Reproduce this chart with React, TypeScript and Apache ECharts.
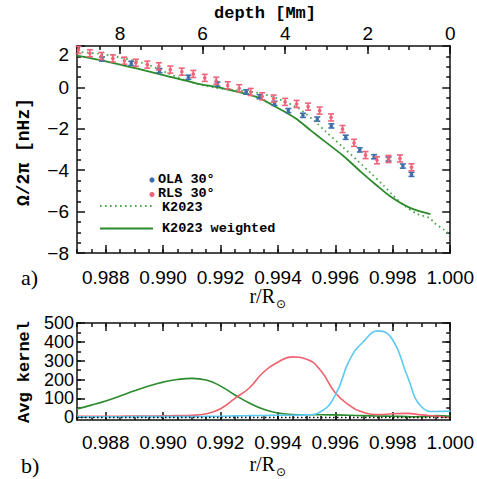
import React, { useEffect, useRef } from 'react';
import * as echarts from 'echarts';

// ---------- data ----------
const R_TICKS = [0.988, 0.99, 0.992, 0.994, 0.996, 0.998, 1.0];
const DEPTH_MAX = 9.0441; // (1 - 0.987) * 695.7 Mm
const KERNEL_TICKS = [0, 100, 200, 300, 400, 500];
const KERNEL_MINOR = [0, 50, 100, 150, 200, 250, 300, 350, 400, 450, 500];

const R_RLS = [0.98705, 0.98745, 0.98785, 0.98825, 0.98865, 0.98905, 0.98945, 0.98985, 0.99025, 0.99065,
  0.99105, 0.99145, 0.99185, 0.99225, 0.99265, 0.99305, 0.99345, 0.99385, 0.99425, 0.99465,
  0.99505, 0.99545, 0.99585, 0.99625, 0.99665, 0.99705, 0.99745, 0.99785, 0.99825, 0.99865];
const V_RLS = [1.81, 1.65, 1.52, 1.40, 1.29, 1.19, 1.10, 1.02, 0.86, 0.76,
  0.65, 0.46, 0.32, 0.10, -0.04, -0.22, -0.43, -0.54, -0.70, -0.80,
  -0.93, -1.12, -1.45, -2.01, -2.68, -3.27, -3.52, -3.46, -3.43, -3.86];
const E_RLS = [0.17, 0.17, 0.17, 0.17, 0.17, 0.17, 0.17, 0.17, 0.17, 0.17,
  0.17, 0.17, 0.17, 0.17, 0.17, 0.17, 0.17, 0.17, 0.17, 0.17,
  0.17, 0.17, 0.17, 0.17, 0.17, 0.17, 0.17, 0.17, 0.17, 0.17];

const R_OLA = [0.98787, 0.98889, 0.98987, 0.99088, 0.99189, 0.99289, 0.99336, 0.99388, 0.99436,
  0.99487, 0.99537, 0.99586, 0.99636, 0.99685, 0.99735, 0.99785, 0.99835, 0.99865];
const V_OLA = [1.37, 1.16, 0.81, 0.49, 0.16, -0.22, -0.45, -0.77, -1.12,
  -1.35, -1.53, -1.86, -2.41, -3.02, -3.35, -3.46, -3.80, -4.20];
const E_OLA = [0.1, 0.1, 0.1, 0.1, 0.1, 0.1, 0.1, 0.1, 0.1,
  0.1, 0.1, 0.1, 0.1, 0.1, 0.1, 0.1, 0.1, 0.1];

const R_K2023 = [0.987, 0.9878, 0.98849, 0.98942, 0.99022, 0.99091, 0.99125, 0.99177, 0.99229, 0.99326,
  0.99391, 0.99471, 0.9953, 0.99564, 0.99627, 0.99678, 0.9972, 0.99765, 0.99803, 0.99841,
  0.99886, 0.99927, 0.99945, 0.99979, 1.0];
const V_K2023 = [1.72, 1.62, 1.45, 1.12, 0.65, 0.28, 0.15, 0.0, -0.1, -0.25,
  -0.5, -1.01, -1.66, -2.1, -2.9, -3.55, -4.1, -4.7, -5.25, -5.72,
  -6.12, -6.3, -6.55, -6.89, -7.1];

const R_K2023W = [0.987, 0.98804, 0.98907, 0.99011, 0.99115, 0.99205, 0.99322, 0.99391, 0.99461,
  0.99516, 0.99564, 0.99627, 0.99689, 0.99741, 0.99793, 0.99862, 0.99931];
const V_K2023W = [1.53, 1.25, 0.92, 0.56, 0.2, -0.04, -0.45, -0.93, -1.49,
  -2.1, -2.62, -3.3, -4.08, -4.7, -5.28, -5.83, -6.12];

// averaging kernels, sampled every 0.0005 in r/R
const R_KER = [0.987, 0.9875, 0.988, 0.9885, 0.989, 0.9895, 0.99, 0.9905, 0.991, 0.9915,
  0.992, 0.9925, 0.993, 0.9935, 0.994, 0.9945, 0.995, 0.9955, 0.996, 0.9965,
  0.997, 0.9975, 0.998, 0.9985, 0.999, 0.9995, 1.0];
const V_KER_G = [44, 64, 86, 112, 140, 165, 186, 200, 206, 197,
  165, 118, 75, 42, 22, 14, 13, 13, 12, 10,
  8, 6, 5, 3, 2, 8, 5];
const V_KER_R = [5, 5, 5, 5, 6, 6, 7, 8, 10, 18,
  45, 100, 155, 240, 292, 320, 308, 245, 128, 62,
  25, 14, 18, 20, 12, 6, -3];
const V_KER_C = [2, 2, 2, 2, 3, 3, 3, 3, 3, 4,
  5, 7, 8, 9, 10, 10, 12, 30, 118, 305,
  405, 458, 410, 220, 55, 30, 32];

// ---------- styles ----------
const FG = '#111';
const SANS = '"Liberation Sans", Arial, sans-serif';
const TICK_FONT = { fontFamily: SANS, fontSize: 19, color: '#000', lineHeight: 16 };
const MONO = '"Liberation Mono", "Courier New", monospace';
const SERIF = '"Liberation Serif", "Times New Roman", serif';
const C_OLA = '#3d6fa8';
const C_RLS = '#f0647a';
const C_GREEN = '#2b8a2b';
const C_GREEN_LIGHT = '#48a848';
const C_RED = '#f0606c';
const C_CYAN = '#5ec8f0';

const lineStyle = { color: FG, width: 1.5 };
const minus = (s: string) => s.replace('-', '\u2212');

function rAxes(grid: number, labelMargin: number) {
  const major = (pos: string, labels: boolean) => ({
    gridIndex: grid, type: 'value', position: pos, min: 0.987, max: 1.0,
    axisLine: { show: true, onZero: false, lineStyle },
    axisTick: { show: true, inside: true, length: 8, customValues: R_TICKS, lineStyle },
    axisLabel: labels
      ? { show: true, customValues: R_TICKS, formatter: (v: number) => v.toFixed(3), margin: labelMargin, hideOverlap: false, ...TICK_FONT }
      : { show: false },
    splitLine: { show: false },
  });
  const minor = (pos: string) => ({
    gridIndex: grid, type: 'value', position: pos, min: 0.987, max: 1.0, interval: 0.0005,
    axisLine: { show: false, onZero: false },
    axisTick: { show: true, inside: true, length: 4, lineStyle },
    axisLabel: { show: false },
    splitLine: { show: false },
  });
  return { major, minor };
}

function buildOption() {
  const a0 = rAxes(0, 16);
  const a1 = rAxes(1, 14);
  const xAxis: any[] = [
    a0.major('bottom', true), // 0
    a0.minor('bottom'), // 1
    { // 2 depth top major
      gridIndex: 0, type: 'value', position: 'top', min: 0, max: DEPTH_MAX, inverse: true, interval: 2,
      axisLine: { show: true, onZero: false, lineStyle },
      axisTick: { show: true, inside: true, length: 8, lineStyle },
      axisLabel: {
        show: true, margin: 5, ...TICK_FONT,
        formatter: (v: number) => (Math.abs(v - Math.round(v)) < 1e-6 && Math.round(v) % 2 === 0 ? String(Math.round(v)) : ''),
      },
      splitLine: { show: false },
    },
    { // 3 depth top minor
      gridIndex: 0, type: 'value', position: 'top', min: 0, max: DEPTH_MAX, inverse: true, interval: 0.5,
      axisLine: { show: false, onZero: false },
      axisTick: { show: true, inside: true, length: 4, lineStyle },
      axisLabel: { show: false }, splitLine: { show: false },
    },
    a1.major('bottom', true), // 4
    a1.minor('bottom'), // 5
    a1.major('top', false), // 6
    a1.minor('top'), // 7
  ];

  const yAxis: any[] = [
    { // 0 top panel left
      gridIndex: 0, type: 'value', position: 'left', min: -8, max: 2, interval: 2,
      axisLine: { show: true, onZero: false, lineStyle },
      axisTick: { show: true, inside: true, length: 8, lineStyle },
      minorTick: { show: true, splitNumber: 4, length: 4, lineStyle },
      axisLabel: { show: true, margin: 8, ...TICK_FONT, formatter: (v: number) => minus(String(v)), verticalAlignMaxLabel: 'top' },
      splitLine: { show: false }, minorSplitLine: { show: false },
    },
    { // 1 top panel right
      gridIndex: 0, type: 'value', position: 'right', min: -8, max: 2, interval: 2,
      axisLine: { show: true, onZero: false, lineStyle },
      axisTick: { show: true, inside: true, length: 8, lineStyle },
      minorTick: { show: true, splitNumber: 4, length: 4, lineStyle },
      axisLabel: { show: false },
      splitLine: { show: false }, minorSplitLine: { show: false },
    },
    { // 2 bottom panel left major
      gridIndex: 1, type: 'value', position: 'left', min: -15, max: 500,
      axisLine: { show: true, onZero: false, lineStyle },
      axisTick: { show: true, inside: true, length: 8, customValues: KERNEL_TICKS, lineStyle },
      axisLabel: { show: true, margin: 3, fontFamily: SANS, fontSize: 18, lineHeight: 15, color: '#000', customValues: KERNEL_TICKS, hideOverlap: false, showMaxLabel: true },
      splitLine: { show: false },
    },
    { // 3 bottom panel left minor
      gridIndex: 1, type: 'value', position: 'left', min: -15, max: 500,
      axisLine: { show: false, onZero: false },
      axisTick: { show: true, inside: true, length: 4, customValues: KERNEL_MINOR, lineStyle },
      axisLabel: { show: false }, splitLine: { show: false },
    },
    { // 4 bottom panel right major
      gridIndex: 1, type: 'value', position: 'right', min: -15, max: 500,
      axisLine: { show: true, onZero: false, lineStyle },
      axisTick: { show: true, inside: true, length: 8, customValues: KERNEL_TICKS, lineStyle },
      axisLabel: { show: false }, splitLine: { show: false },
    },
    { // 5 bottom panel right minor
      gridIndex: 1, type: 'value', position: 'right', min: -15, max: 500,
      axisLine: { show: false, onZero: false },
      axisTick: { show: true, inside: true, length: 4, customValues: KERNEL_MINOR, lineStyle },
      axisLabel: { show: false }, splitLine: { show: false },
    },
  ];

  const errRender = (color: string, capW: number, dotR: number) => (params: any, api: any) => {
    const x = api.value(0), y = api.value(1), e = api.value(2);
    const p = api.coord([x, y]);
    const t = api.coord([x, y + e]);
    const b = api.coord([x, y - e]);
    const st = { stroke: color, lineWidth: 1.6 };
    return {
      type: 'group',
      children: [
        { type: 'line', shape: { x1: p[0], y1: t[1], x2: p[0], y2: b[1] }, style: st },
        { type: 'line', shape: { x1: p[0] - capW / 2, y1: t[1], x2: p[0] + capW / 2, y2: t[1] }, style: st },
        { type: 'line', shape: { x1: p[0] - capW / 2, y1: b[1], x2: p[0] + capW / 2, y2: b[1] }, style: st },
        { type: 'circle', shape: { cx: p[0], cy: p[1], r: dotR }, style: { fill: color } },
      ],
    };
  };

  const kernelLine = (vals: number[], color: string, extra: any = {}) => ({
    type: 'line', xAxisIndex: 4, yAxisIndex: 2, showSymbol: false, smooth: 0.5,
    data: R_KER.map((r, i) => [r, vals[i]]),
    lineStyle: { color, width: 1.6 }, z: 3, ...extra,
  });

  const series: any[] = [
    {
      name: 'K2023', type: 'line', xAxisIndex: 0, yAxisIndex: 0, showSymbol: false, smooth: 0.3,
      data: R_K2023.map((r, i) => [r, V_K2023[i]]),
      lineStyle: { color: C_GREEN_LIGHT, width: 1.8, type: [1.6, 3.4] }, z: 2,
    },
    {
      name: 'K2023 weighted', type: 'line', xAxisIndex: 0, yAxisIndex: 0, showSymbol: false, smooth: 0.3,
      data: R_K2023W.map((r, i) => [r, V_K2023W[i]]),
      lineStyle: { color: C_GREEN, width: 1.8 }, z: 2,
    },
    {
      name: 'OLA 30°', type: 'custom', xAxisIndex: 0, yAxisIndex: 0, z: 4,
      renderItem: errRender(C_OLA, 6, 1.8),
      data: R_OLA.map((r, i) => [r, V_OLA[i], E_OLA[i]]),
    },
    {
      name: 'RLS 30°', type: 'custom', xAxisIndex: 0, yAxisIndex: 0, z: 5,
      renderItem: errRender(C_RLS, 6, 1.8),
      data: R_RLS.map((r, i) => [r, V_RLS[i], E_RLS[i]]),
    },
    kernelLine(V_KER_G, C_GREEN, {
      name: 'kernel deep',
      markLine: {
        silent: true, symbol: 'none', label: { show: false },
        lineStyle: { color: '#000', width: 1.3, type: [1.5, 2.5] },
        data: [{ yAxis: 0 }],
      },
    }),
    kernelLine(V_KER_R, C_RED, { name: 'kernel mid' }),
    kernelLine(V_KER_C, C_CYAN, { name: 'kernel shallow' }),
  ];

  const legendFont = { fontFamily: MONO, fontSize: 13.5, fontWeight: 'bold', fill: '#000', verticalAlign: 'middle', lineHeight: 11 };
  const rFont = { fontFamily: SERIF, fontSize: 20, fill: '#000', align: 'right', verticalAlign: 'middle', lineHeight: 14 };
  const sunFont = { fontFamily: '"DejaVu Sans", sans-serif', fontSize: 12, fill: '#000', verticalAlign: 'middle', lineHeight: 10 };
  const graphic: any[] = [
    { type: 'text', x: 265, y: 13, style: { text: 'depth [Mm]', fontFamily: MONO, fontSize: 17, fontWeight: 'bold', fill: '#000', align: 'center', verticalAlign: 'middle', lineHeight: 13 } },
    { type: 'text', x: 24, y: 152, rotation: Math.PI / 2, style: { text: 'Ω/2π [nHz]', fontFamily: MONO, fontSize: 18, fontWeight: 'bold', fill: '#000', align: 'center', verticalAlign: 'middle' } },
    { type: 'text', x: 24, y: 372, rotation: Math.PI / 2, style: { text: 'Avg kernel', fontFamily: MONO, fontSize: 17, fontWeight: 'bold', fill: '#000', align: 'center', verticalAlign: 'middle' } },
    // legend
    { type: 'circle', shape: { cx: 152, cy: 180, r: 2.6 }, style: { fill: C_OLA } },
    { type: 'text', x: 158, y: 179.5, style: { text: 'OLA 30°', ...legendFont } },
    { type: 'circle', shape: { cx: 152, cy: 194.5, r: 2.6 }, style: { fill: C_RLS } },
    { type: 'text', x: 158, y: 193.8, style: { text: 'RLS 30°', ...legendFont } },
    { type: 'line', shape: { x1: 100, y1: 206, x2: 153, y2: 206 }, style: { stroke: C_GREEN_LIGHT, lineWidth: 1.8, lineDash: [1.6, 3.4] } },
    { type: 'text', x: 162, y: 207.5, style: { text: 'K2023', ...legendFont } },
    { type: 'line', shape: { x1: 100, y1: 228.5, x2: 153, y2: 228.5 }, style: { stroke: C_GREEN, lineWidth: 1.8 } },
    { type: 'text', x: 162, y: 228.5, style: { text: 'K2023 weighted', ...legendFont } },
    // panel labels and axis titles
    { type: 'text', x: 21, y: 277, style: { text: 'a)', fontFamily: SERIF, fontSize: 22, fill: '#000', verticalAlign: 'middle' } },
    { type: 'text', x: 275, y: 296, style: { text: 'r/R', ...rFont } },
    { type: 'text', x: 276, y: 303.5, style: { text: '⊙', ...sunFont } },
    { type: 'text', x: 21, y: 465, style: { text: 'b)', fontFamily: SERIF, fontSize: 22, fill: '#000', verticalAlign: 'middle' } },
    { type: 'text', x: 275, y: 464, style: { text: 'r/R', ...rFont } },
    { type: 'text', x: 276, y: 471.5, style: { text: '⊙', ...sunFont } },
  ];

  return {
    animation: false,
    backgroundColor: '#fff',
    grid: [
      { left: 77, top: 46, width: 376, height: 207 },
      { left: 77, top: 323, width: 376, height: 97 },
    ],
    xAxis, yAxis, series, graphic,
  };
}

export default function App() {
  const ref = useRef<HTMLDivElement>(null);
  useEffect(() => {
    const chart = echarts.init(ref.current!, null, { renderer: 'svg' });
    chart.setOption(buildOption() as any);
    return () => chart.dispose();
  }, []);
  return <div ref={ref} style={{ position: 'absolute', left: 0, top: 0, width: 477, height: 479, background: '#fff' }} />;
}
